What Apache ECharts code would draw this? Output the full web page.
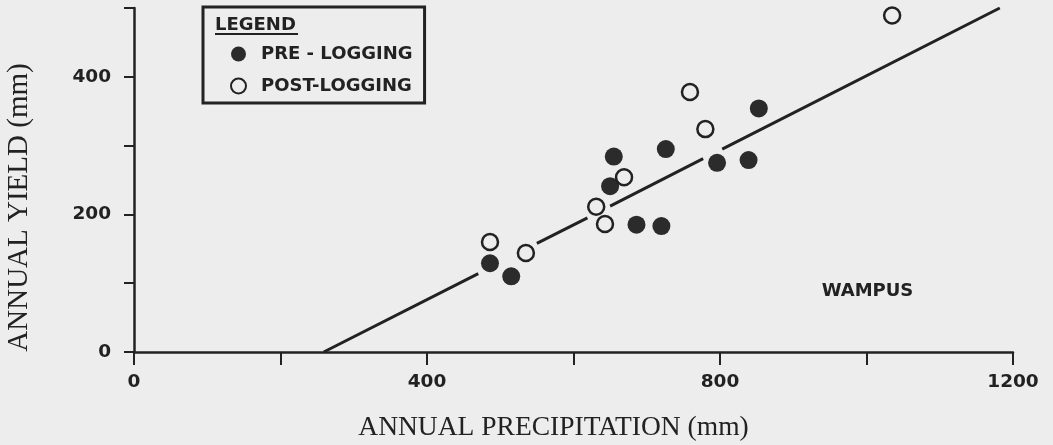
<!DOCTYPE html>
<html>
<head>
<meta charset="utf-8">
<script src="https://cdn.jsdelivr.net/npm/echarts@6/dist/echarts.min.js"></script>
<style>
html,body{margin:0;padding:0;background:#ededed;}
#chart{width:1053px;height:445px;}
</style>
</head>
<body>
<div id="chart"></div>
<script>
// Pre-logging (filled) points: annual precipitation (mm) vs annual yield (mm)
const preX = [486, 515, 650, 655, 686, 720, 726, 796, 839, 853];
const preY = [129, 110, 241, 284, 185, 183, 295, 275, 279, 354];
// Post-logging (open) points
const postX = [486, 535, 631, 643, 669, 759, 780, 1035];
const postY = [160, 144, 211, 186, 254, 378, 324, 489];
// Fitted line, drawn in broken segments (null = gap)
const lineX = [259, 470, null, 550, 619, null, 650, 777, null, 803, 1182];
const lineY = [0, 114, null, 158, 195, null, 212, 281, null, 295, 500];
// Tick labels
const xTickLabels = [0, 400, 800, 1200];
const yTickLabels = [0, 200, 400];

const INK = '#222';
const BG = '#ededed';
const sans = '"DejaVu Sans", sans-serif';
const serif = '"Liberation Serif", "DejaVu Serif", serif';

const pre = preX.map((x, i) => [x, preY[i]]);
const post = postX.map((x, i) => [x, postY[i]]);
const fit = lineX.map((x, i) => x === null ? ['-', '-'] : [x, lineY[i]]);

const chart = echarts.init(document.getElementById('chart'));
chart.setOption({
  backgroundColor: BG,
  animation: false,
  grid: { left: 134, right: 40, top: 8, bottom: 93 },
  xAxis: {
    type: 'value', min: 0, max: 1200, interval: 200,
    splitLine: { show: false },
    axisLine: { lineStyle: { color: INK, width: 2.5 } },
    axisTick: { length: 13, lineStyle: { color: INK, width: 2 } },
    axisLabel: {
      margin: 21, color: INK, fontFamily: sans, fontWeight: 'bold', fontSize: 18.5,
      formatter: v => xTickLabels.includes(v) ? String(v) : ''
    }
  },
  yAxis: {
    type: 'value', min: 0, max: 500, interval: 100,
    splitLine: { show: false },
    axisLine: { show: true, lineStyle: { color: INK, width: 2.5 } },
    axisTick: { show: true, length: 10, lineStyle: { color: INK, width: 2 } },
    axisLabel: {
      margin: 23, color: INK, fontFamily: sans, fontWeight: 'bold', fontSize: 18.5,
      formatter: v => yTickLabels.includes(v) ? String(v) : ''
    }
  },
  legend: {
    orient: 'vertical',
    left: 203, top: 7,
    data: ['PRE - LOGGING', 'POST-LOGGING'],
    borderColor: INK, borderWidth: 3,
    padding: [38, 12, 8, 27],
    itemWidth: 15, itemHeight: 15, itemGap: 14,
    textStyle: { color: INK, fontFamily: sans, fontWeight: 'bold', fontSize: 18, padding: [0, 0, 0, 10] }
  },
  graphic: [
    { type: 'text', left: 215, top: 16, style: { text: 'LEGEND', fill: INK, font: 'bold 18px ' + sans } },
    { type: 'line', shape: { x1: 215, y1: 34, x2: 298, y2: 34 }, style: { stroke: INK, lineWidth: 2 } },
    { type: 'text', x: 867.5, y: 291, style: { text: 'WAMPUS', fill: INK, font: 'bold 18px ' + sans, textAlign: 'center', textVerticalAlign: 'middle' } },
    { type: 'text', x: 553.5, y: 428, style: { text: 'ANNUAL PRECIPITATION (mm)', fill: INK, font: '27.5px ' + serif, textAlign: 'center', textVerticalAlign: 'middle' } },
    { type: 'text', x: 19, y: 207.5, rotation: Math.PI / 2, style: { text: 'ANNUAL YIELD (mm)', fill: INK, font: '29px ' + serif, textAlign: 'center', textVerticalAlign: 'middle' } }
  ],
  series: [
    {
      name: 'fit', type: 'line', data: fit, showSymbol: false, symbol: 'none',
      connectNulls: false, silent: true,
      lineStyle: { color: INK, width: 3 }, z: 1
    },
    {
      name: 'PRE - LOGGING', type: 'scatter', data: pre, symbol: 'circle', symbolSize: 18,
      itemStyle: { color: '#2b2b2b', opacity: 1 }, z: 3
    },
    {
      name: 'POST-LOGGING', type: 'scatter', data: post, symbol: 'circle', symbolSize: 16,
      itemStyle: { color: BG, borderColor: INK, borderWidth: 2.5, opacity: 1 }, z: 3
    }
  ]
});
</script>
</body>
</html>
